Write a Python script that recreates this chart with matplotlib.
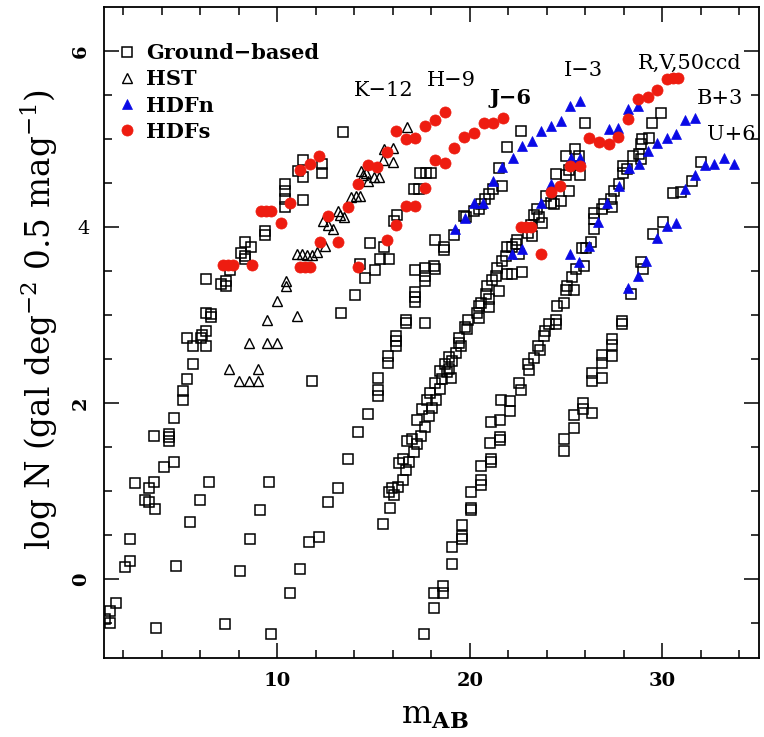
#!/usr/bin/env python3
"""
Galaxy number counts: log N against m_AB for the K, H, J, I, R, B and U bands
(each band shifted by the offset written next to its curve).
"""

import numpy as np
import matplotlib
matplotlib.use('Agg')
import matplotlib.pyplot as plt

# ---- data: (m_AB, log N) pairs ----
# ground-based counts, one list per group of points
ground_k = [(1.06, -0.46), (1.34, -0.50), (1.34, -0.36), (1.61, -0.27), (2.10, 0.14),
            (2.34, 0.20), (2.34, 0.45), (2.62, 1.09), (3.11, 0.90), (3.35, 0.87),
            (3.35, 1.04), (3.59, 1.10), (3.63, 0.80), (3.59, 1.63), (4.36, 1.65),
            (4.36, 1.61), (4.36, 1.57), (4.11, 1.27), (4.64, 1.33), (4.64, 1.83),
            (5.10, 2.14), (5.10, 2.04), (5.33, 2.27), (5.63, 2.45), (5.33, 2.74),
            (5.63, 2.65), (6.32, 2.65), (6.32, 2.82), (6.09, 2.78), (6.05, 2.74),
            (6.32, 3.03), (6.58, 3.01), (6.58, 2.98), (6.32, 3.41), (7.10, 3.36),
            (7.36, 3.39), (7.36, 3.33), (7.54, 3.51), (8.35, 3.83), (8.63, 3.77),
            (8.11, 3.71), (8.32, 3.67), (8.35, 3.64), (9.36, 3.96), (9.36, 3.91),
            (10.40, 4.49), (10.40, 4.41), (10.40, 4.32), (10.40, 4.23), (11.09, 4.64),
            (11.35, 4.76), (11.35, 4.57), (11.35, 4.31), (12.31, 4.72), (12.31, 4.62),
            (13.39, 5.08)]
ground_faint = [(3.73, -0.56), (4.76, 0.15), (5.48, 0.65), (5.97, 0.90), (6.47, 1.10),
                (7.31, -0.51), (8.09, 0.09), (8.58, 0.45), (9.08, 0.79), (9.57, 1.10),
                (9.67, -0.63), (10.66, -0.16), (11.18, 0.11), (11.65, 0.42), (12.17, 0.48),
                (12.66, 0.87), (13.16, 1.04), (13.70, 1.37), (11.82, 2.25), (13.32, 3.02),
                (14.05, 3.23), (14.57, 3.42), (14.32, 3.58), (14.84, 3.82), (15.56, 3.77),
                (15.35, 3.64), (15.82, 3.64), (15.09, 3.51)]
ground_j = [(14.18, 1.67), (14.69, 1.88), (15.21, 2.29), (15.21, 2.15), (15.21, 2.08),
            (15.74, 2.54), (15.74, 2.46), (16.18, 2.76), (16.18, 2.71), (16.18, 2.65),
            (16.68, 2.95), (16.68, 2.91), (17.69, 2.91), (17.17, 3.26), (17.17, 3.21),
            (17.17, 3.15), (17.17, 3.51), (17.69, 3.54), (17.69, 3.45), (17.69, 3.39),
            (18.13, 3.56), (18.18, 3.52), (18.18, 3.85), (18.65, 3.78), (18.65, 3.74),
            (19.17, 3.91), (19.81, 4.12), (20.47, 4.21), (19.69, 4.13), (20.21, 4.18),
            (20.56, 4.26), (20.78, 4.32), (20.99, 4.38), (21.20, 4.44), (21.65, 4.47),
            (21.51, 4.67), (21.94, 4.91), (22.64, 5.09), (17.43, 4.62), (17.70, 4.62),
            (17.96, 4.62), (17.08, 4.43), (17.34, 4.44), (16.21, 4.14), (16.04, 4.07)]
ground_i = [(15.51, 0.63), (15.87, 0.81), (15.78, 0.99), (16.08, 0.95), (15.95, 1.04),
            (16.27, 1.05), (16.51, 1.12), (16.30, 1.32), (16.51, 1.37), (16.86, 1.33),
            (16.68, 1.24), (17.08, 1.44), (17.26, 1.54), (16.73, 1.57), (16.99, 1.59),
            (17.48, 1.63), (17.66, 1.73), (17.26, 1.81), (17.90, 1.85), (18.04, 1.95),
            (17.52, 1.93), (17.78, 2.03), (18.24, 2.04), (17.95, 2.12), (18.47, 2.16),
            (18.21, 2.23), (19.00, 2.29), (18.47, 2.36), (18.56, 2.27), (18.73, 2.44),
            (18.91, 2.39), (18.82, 2.35), (18.91, 2.52), (19.08, 2.48), (19.29, 2.57),
            (19.43, 2.74), (19.43, 2.68), (19.52, 2.65), (19.86, 2.84), (19.91, 2.95),
            (19.74, 2.86), (20.38, 3.03), (20.47, 2.97), (20.47, 3.10), (20.99, 3.09),
            (20.56, 3.14), (20.99, 3.18), (20.82, 3.24), (20.90, 3.33), (21.51, 3.28),
            (21.16, 3.40), (21.34, 3.45), (21.42, 3.54), (21.94, 3.47), (22.20, 3.47),
            (22.72, 3.49), (21.68, 3.62), (21.86, 3.67), (21.94, 3.77), (22.20, 3.77),
            (22.38, 3.81), (22.46, 3.86), (22.55, 3.69), (23.04, 3.94), (23.16, 4.02),
            (23.24, 3.90), (23.33, 4.14), (23.51, 4.21), (23.59, 4.12), (23.77, 4.05),
            (23.94, 4.36), (24.20, 4.28), (24.72, 4.30), (25.16, 4.41), (24.38, 4.26),
            (24.46, 4.60), (24.98, 4.59), (25.16, 4.65), (25.71, 4.59), (24.98, 4.81),
            (25.68, 4.81), (25.47, 4.89), (25.99, 5.19)]
ground_r = [(17.60, -0.63), (18.13, -0.33), (18.13, -0.16), (18.59, -0.08), (18.59, -0.16),
            (19.08, 0.36), (19.08, 0.17), (19.57, 0.61), (19.57, 0.49), (19.57, 0.46),
            (20.07, 0.99), (20.07, 0.81), (20.07, 0.78), (20.57, 1.29), (20.57, 1.12),
            (20.57, 1.07), (21.09, 1.37), (21.09, 1.33), (21.06, 1.55), (21.55, 1.58),
            (21.55, 1.62), (21.08, 1.78), (21.55, 1.81), (21.60, 2.03), (22.07, 2.02),
            (22.07, 1.91), (22.55, 2.23), (22.64, 2.15), (23.04, 2.44), (23.07, 2.38),
            (23.33, 2.51), (23.56, 2.65), (23.63, 2.60), (23.91, 2.82), (23.85, 2.76),
            (24.11, 2.90), (24.46, 2.95), (24.46, 2.90), (24.55, 3.10), (24.90, 3.14),
            (25.02, 3.29), (25.42, 3.29), (25.07, 3.33), (25.30, 3.43), (25.51, 3.52),
            (25.94, 3.56), (25.85, 3.76), (26.03, 3.76), (26.29, 3.83), (26.46, 3.98),
            (26.46, 4.09), (26.46, 4.16), (26.89, 4.21), (26.98, 4.26), (27.41, 4.23),
            (27.33, 4.32), (27.50, 4.41), (27.76, 4.49), (27.93, 4.70), (27.97, 4.62),
            (28.14, 4.66), (28.49, 4.81), (28.77, 4.83), (28.89, 4.78), (28.94, 5.00),
            (29.32, 5.02), (28.89, 4.95), (29.46, 5.19), (29.93, 5.30)]
ground_bu = [(24.90, 1.59), (24.90, 1.46), (25.42, 1.86), (25.42, 1.72), (25.89, 2.00),
             (25.89, 1.93), (26.37, 1.89), (26.37, 2.34), (26.89, 2.28), (26.37, 2.25),
             (26.89, 2.55), (27.38, 2.54), (26.89, 2.46), (27.38, 2.73), (27.38, 2.66),
             (27.90, 2.93), (27.90, 2.90), (28.37, 3.24), (28.89, 3.61), (29.01, 3.52),
             (29.53, 3.92), (30.02, 4.06), (30.54, 4.39), (30.97, 4.40), (31.55, 4.52),
             (32.02, 4.74)]

# HST counts (H band)
hst = [(7.50, 2.39), (9.01, 2.39), (8.01, 2.25), (8.53, 2.25), (9.01, 2.25),
       (8.53, 2.68), (9.49, 2.68), (10.00, 2.68), (9.49, 2.95), (11.01, 2.99),
       (10.00, 3.16), (10.48, 3.39), (10.48, 3.33), (11.01, 3.69), (11.27, 3.70),
       (11.53, 3.68), (11.79, 3.68), (12.05, 3.72), (12.48, 3.79), (12.40, 4.07),
       (12.62, 4.02), (12.92, 3.98), (13.18, 4.19), (13.27, 4.14), (13.49, 4.12),
       (13.84, 4.34), (14.08, 4.35), (14.31, 4.35), (14.36, 4.64), (14.60, 4.62),
       (14.48, 4.59), (14.74, 4.53), (15.05, 4.57), (15.26, 4.57), (15.52, 4.89),
       (15.99, 4.90), (15.47, 4.76), (15.99, 4.74), (16.73, 5.14)]

# HDF north
hdfn_i = [(19.22, 3.98), (19.74, 4.10), (20.21, 4.27), (20.68, 4.27), (21.20, 4.52),
          (21.68, 4.69), (22.24, 4.79), (22.69, 4.92), (23.21, 4.98), (23.68, 5.09),
          (24.20, 5.15), (24.72, 5.21), (25.19, 5.38), (25.71, 5.44)]
hdfn_r = [(22.20, 3.69), (22.69, 3.75), (23.68, 4.28), (24.20, 4.49), (25.24, 4.79),
          (25.71, 4.79), (27.24, 5.12), (27.72, 5.13), (28.19, 5.35), (28.71, 5.38)]
hdfn_b = [(25.19, 3.69), (25.68, 3.61), (26.20, 3.79), (26.68, 4.06), (27.15, 4.27),
          (27.76, 4.47), (28.28, 4.67), (28.77, 4.72), (29.23, 4.87), (29.70, 4.96),
          (30.22, 5.02), (30.71, 5.06), (31.20, 5.22), (31.67, 5.24)]
hdfn_u = [(28.24, 3.31), (28.71, 3.44), (29.15, 3.62), (29.70, 3.88), (30.22, 4.01),
          (30.71, 4.05), (31.20, 4.43), (31.72, 4.59), (32.19, 4.71), (32.66, 4.72),
          (33.18, 4.79), (33.70, 4.72)]

# HDF south
hdfs_k = [(7.19, 3.57), (7.45, 3.57), (7.71, 3.57), (8.70, 3.57), (9.18, 4.18),
          (9.44, 4.18), (9.70, 4.18), (10.19, 4.05), (10.66, 4.28), (11.18, 4.65),
          (11.70, 4.72), (12.17, 4.81)]
hdfs_h = [(11.18, 3.55), (11.44, 3.55), (11.70, 3.55), (12.22, 3.83), (13.18, 3.83),
          (12.66, 4.13), (13.70, 4.23), (14.18, 4.49), (14.69, 4.71), (15.17, 4.68),
          (15.69, 4.86), (16.18, 5.09), (16.68, 5.00), (17.17, 5.01), (17.69, 5.15),
          (18.18, 5.22), (18.70, 5.31)]
hdfs_j = [(14.18, 3.55), (15.69, 3.85), (16.18, 4.02), (16.68, 4.24), (17.17, 4.24),
          (17.69, 4.45), (18.18, 4.77), (18.70, 4.73), (19.17, 4.90), (19.69, 5.03),
          (20.21, 5.07), (20.73, 5.18), (21.20, 5.18), (21.72, 5.24)]
hdfs_ir = [(22.64, 4.00), (22.90, 4.00), (23.16, 4.00), (23.68, 3.69), (24.20, 4.40),
           (24.67, 4.47), (25.19, 4.70), (25.71, 4.70), (26.20, 5.01), (26.72, 4.97),
           (27.24, 4.95), (27.72, 5.03), (28.24, 5.23), (28.71, 5.46), (29.23, 5.48),
           (29.70, 5.56), (30.22, 5.69), (30.54, 5.70), (30.80, 5.70)]

# band labels with their offsets
band_labels = ['K\u221212', 'H\u22129', 'J\u22126', 'I\u22123', 'R,V,50ccd', 'B+3', 'U+6']
band_label_pos = [(15.55, 5.55), (19.05, 5.67), (22.1, 5.47), (25.9, 5.78),
                  (31.4, 5.86), (33.0, 5.46), (33.6, 5.06)]

RED = '#ee1c10'
BLUE = '#0a0ae6'

plt.rcParams['font.family'] = 'DejaVu Serif'
plt.rcParams['mathtext.fontset'] = 'dejavuserif'

fig = plt.figure(figsize=(7.64, 7.37), dpi=100)
ax = fig.add_axes([0.136, 0.107, 0.857, 0.883])

ground = np.array(ground_k + ground_faint + ground_j + ground_i + ground_r + ground_bu)
hst_arr = np.array(hst)
hdfn = np.array(hdfn_i + hdfn_r + hdfn_b + hdfn_u)
hdfs = np.array(hdfs_k + hdfs_h + hdfs_j + hdfs_ir)

ax.plot(ground[:, 0], ground[:, 1], 's', ls='none', ms=6.6, mfc='none', mec='black',
        mew=1.1, label='Ground\u2212based', zorder=2)
ax.plot(hst_arr[:, 0], hst_arr[:, 1], '^', ls='none', ms=7, mfc='none', mec='black',
        mew=1.0, label='HST', zorder=3)
ax.plot(hdfn[:, 0], hdfn[:, 1], '^', ls='none', ms=6.5, mfc=BLUE, mec=BLUE,
        mew=0.5, label='HDFn', zorder=4)
ax.plot(hdfs[:, 0], hdfs[:, 1], 'o', ls='none', ms=8, mfc=RED, mec=RED,
        mew=0.5, label='HDFs', zorder=5)

for text, (x, y) in zip(band_labels, band_label_pos):
    weight = 'bold' if text.startswith('J') else 'normal'
    ax.text(x, y, text, ha='center', va='center', fontsize=15, fontweight=weight)

ax.set_xlim(1, 35)
ax.set_ylim(-0.9, 6.5)
ax.set_xticks([10, 20, 30])
ax.set_xticks(np.arange(2, 35, 2), minor=True)
ax.set_yticks([0, 2, 4, 6])
ax.set_yticks(np.arange(-0.5, 6.5, 0.5), minor=True)
ax.tick_params(which='both', direction='in', top=True, right=True, width=1.1)
ax.tick_params(which='major', length=11)
ax.tick_params(which='minor', length=5.5)
ax.tick_params(axis='x', which='major', pad=10, labelsize=14)
ax.tick_params(axis='y', which='major', pad=10, labelsize=14)
for lab in ax.get_xticklabels():
    lab.set_fontweight('bold')
for lab in ax.get_yticklabels():
    if lab.get_text() == '4':
        lab.set_fontweight('normal')
    else:
        lab.set_fontweight('bold')
        lab.set_rotation(90)
        lab.set_verticalalignment('center')
for spine in ax.spines.values():
    spine.set_linewidth(1.3)

ax.set_xlabel(r'm$_{\mathbf{AB}}$', fontsize=23)
ax.xaxis.set_label_coords(0.505, -0.064)
ax.set_ylabel(r'log N (gal deg$^{-2}$ 0.5 mag$^{-1}$)', fontsize=23.5)
ax.yaxis.set_label_coords(-0.067, 0.52)

ax.legend(loc='upper left', bbox_to_anchor=(0.006, 0.958), borderaxespad=0, frameon=False,
          numpoints=1, handlelength=1.0, handletextpad=0.45, labelspacing=0.3,
          prop={'size': 15, 'weight': 'bold'})

fig.savefig('out.png', dpi=100)
